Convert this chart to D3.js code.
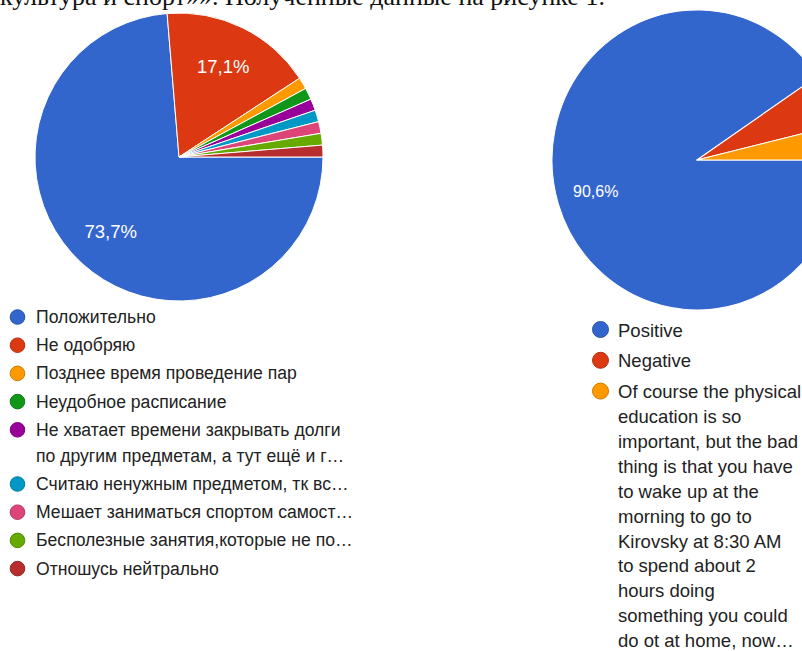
<!DOCTYPE html>
<html lang="ru">
<head>
<meta charset="utf-8">
<script src="https://cdn.jsdelivr.net/npm/d3@7"></script>
<style>
  html, body { margin: 0; padding: 0; background: #fff; }
  svg { display: block; }
</style>
</head>
<body>
<svg id="chart" width="802" height="651"></svg>
<script>
// Survey 1 (Russian): attitude towards the subject
const ruCategories = [
  ["Положительно"],
  ["Не одобряю"],
  ["Позднее время проведение пар"],
  ["Неудобное расписание"],
  ["Не хватает времени закрывать долги", "по другим предметам, а тут ещё и г…"],
  ["Считаю ненужным предметом, тк вс…"],
  ["Мешает заниматься спортом самост…"],
  ["Бесполезные занятия,которые не по…"],
  ["Отношусь нейтрально"]
];
const ruCounts = [56, 13, 1, 1, 1, 1, 1, 1, 1];
const ruLabels = ["73,7%", "17,1%", null, null, null, null, null, null, null];

// Survey 2 (English): same question
const enCategories = [
  ["Positive"],
  ["Negative"],
  ["Of course the physical", "education is so", "important, but the bad",
   "thing is that you have", "to wake up at the", "morning to go to",
   "Kirovsky at 8:30 AM", "to spend about 2", "hours doing",
   "something you could", "do ot at home, now…"]
];
const enCounts = [48, 3, 2];
const enLabels = ["90,6%", null, null];

const palette = ["#3366cc", "#dc3912", "#ff9900", "#109618", "#990099",
                 "#0099c6", "#dd4477", "#66aa00", "#b82e2e"];

const headingText = "культура и спорт»». Полученные данные на рисунке 1.";

const svg = d3.select("#chart");

// Page text above the figures
svg.append("text")
  .attr("x", 0)
  .attr("y", 4.5)
  .attr("font-family", "'Liberation Serif', 'Times New Roman', serif")
  .attr("font-size", 26)
  .attr("fill", "#111")
  .text(headingText);

function drawPie(opts) {
  const pie = d3.pie().sort(null)
    .startAngle(Math.PI / 2)
    .endAngle(Math.PI / 2 + 2 * Math.PI);
  const arcs = pie(opts.counts);
  const arc = d3.arc().innerRadius(0).outerRadius(opts.r);
  const labelArc = d3.arc().innerRadius(opts.r * opts.labelR).outerRadius(opts.r * opts.labelR);
  const color = d3.scaleOrdinal().domain(d3.range(opts.counts.length)).range(palette);

  const g = svg.append("g")
    .attr("transform", `translate(${opts.cx},${opts.cy})`);
  g.append("g")
    .attr("transform", `scale(1,${opts.sy})`)
    .selectAll("path")
    .data(arcs)
    .join("path")
    .attr("d", arc)
    .attr("fill", (d, i) => color(i))
    .attr("stroke", "#fff")
    .attr("stroke-width", 1)
    .attr("stroke-linejoin", "round");

  g.selectAll("text.pct")
    .data(arcs.filter((d, i) => opts.labels[i]))
    .join("text")
    .attr("class", "pct")
    .attr("transform", d => {
      const [x, y] = labelArc.centroid(d);
      return `translate(${x},${y * opts.sy})`;
    })
    .attr("text-anchor", "middle")
    .attr("dominant-baseline", "central")
    .attr("font-family", "Arial, 'Liberation Sans', sans-serif")
    .attr("font-size", opts.labelSize)
    .attr("fill", "#fff")
    .text(d => opts.labels[d.index]);

  // Legend
  const lg = svg.append("g");
  let y = opts.legendY;
  opts.categories.forEach((lines, i) => {
    lg.append("circle")
      .attr("cx", opts.legendX)
      .attr("cy", y)
      .attr("r", opts.dotR)
      .attr("fill", color(i))
      .attr("stroke", d3.color(color(i)).darker(0.6))
      .attr("stroke-width", 1);
    const t = lg.append("text")
      .attr("x", opts.legendX + opts.textGap)
      .attr("y", y)
      .attr("dominant-baseline", "central")
      .attr("font-family", "Arial, 'Liberation Sans', sans-serif")
      .attr("font-size", opts.fontSize)
      .attr("fill", "#222");
    lines.forEach((ln, j) => {
      t.append("tspan")
        .attr("x", opts.legendX + opts.textGap)
        .attr("y", y + j * opts.lineH)
        .text(ln);
    });
    y += (lines.length - 1) * opts.lineH + opts.rowH;
  });
}

drawPie({
  counts: ruCounts, labels: ruLabels, categories: ruCategories,
  cx: 179, cy: 157, r: 144, sy: 1, labelR: 0.7, labelSize: 18.5,
  legendX: 17.5, legendY: 317, dotR: 7.3, textGap: 18.5,
  fontSize: 17.6, lineH: 26, rowH: 28.2
});

drawPie({
  counts: enCounts, labels: enLabels, categories: enCategories,
  cx: 697, cy: 160, r: 145, sy: 150 / 145, labelR: 0.73, labelSize: 16,
  legendX: 600.5, legendY: 329.5, dotR: 8, textGap: 17.5,
  fontSize: 18.5, lineH: 24.9, rowH: 30.8
});
</script>
</body>
</html>
